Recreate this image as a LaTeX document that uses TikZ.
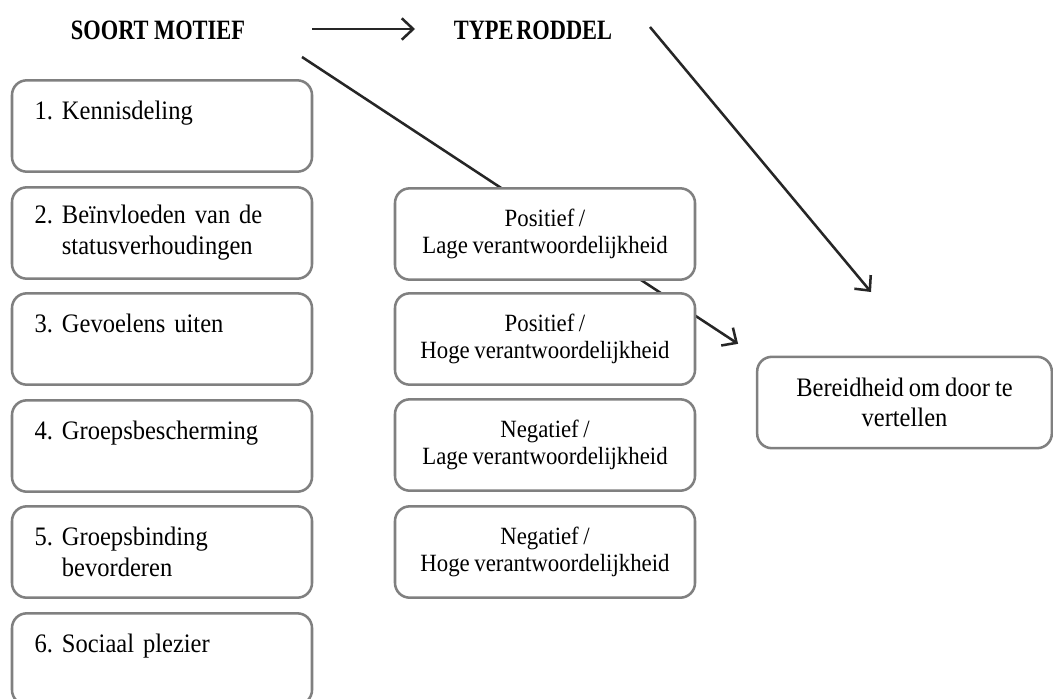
\documentclass[tikz,border=0pt]{standalone}
\usepackage{fontspec}
\setmainfont{Liberation Serif}[FakeStretch=0.92, WordSpace=0.8]
\newfontfamily\hdrfont{Liberation Serif}[FakeStretch=0.8]
\usetikzlibrary{arrows.meta}
\definecolor{boxgray}{RGB}{128,128,128}
\definecolor{linecol}{RGB}{38,38,38}
\begin{document}
\frenchspacing
\begin{tikzpicture}[x=0.75pt,y=-0.75pt,
  box/.style={draw=boxgray, line width=1.9pt, rounded corners=11pt, fill=white, minimum height=68.5pt, inner ysep=0pt},
  leftbox/.style={box, inner xsep=17pt, text width=191pt, align=left, font=\frenchspacing\fontsize{20}{23.25}\selectfont},
  midbox/.style={box, minimum width=225pt, align=center, font=\frenchspacing\fontsize{18.6}{20.25}\selectfont},
  endbox/.style={box, minimum width=221pt, align=center, font=\frenchspacing\fontsize{20}{22.5}\selectfont},
  hdr/.style={font=\hdrfont\bfseries\fontsize{21}{22}\selectfont, inner sep=0pt},
  arr/.style={draw=linecol, line width=1.9pt, -{Straight Barb[length=8.5pt,width=16pt]}},
  plainline/.style={draw=linecol, line width=1.9pt}]
\clip (0,0) rectangle (1053,699);
\fill[white] (0,0) rectangle (1053,699);

% headers
\node[hdr] (soort) at (158,30) {SOORT MOTIEF};
\node[hdr] (type) at (533,30) {TYPE\hspace{2pt}RODDEL};

% connector end points
\coordinate (a1s) at (312,29);
\coordinate (a1e) at (415,29);
\coordinate (l2s) at (302,57);
\coordinate (a3s) at (650,27);
\coordinate (a3e) at (871,292);

% right box (needed for arrow target)
\node[endbox] (bereid) at (904.5,402.5) {Bereidheid om door te\\vertellen};

% connectors (behind boxes)
\draw[arr] (a1s) -- (a1e);
\draw[arr, shorten >=16pt] (l2s) -- (bereid.north west);
\draw[arr] (a3s) -- (a3e);

% left column
\node[leftbox] (m1) at (162,126) {\mbox{1. Kennisdeling}\\\mbox{}};
\node[leftbox] (m2) at (162,233) {\mbox{2. Beïnvloeden van de}\\\mbox{\hphantom{2. }statusverhoudingen}};
\node[leftbox] (m3) at (162,339) {\mbox{3. Gevoelens uiten}\\\mbox{}};
\node[leftbox] (m4) at (162,446) {\mbox{4. Groepsbescherming}\\\mbox{}};
\node[leftbox] (m5) at (162,552) {\mbox{5. Groepsbinding}\\\mbox{\hphantom{5. }bevorderen}};
\node[leftbox] (m6) at (162,659) {\mbox{6. Sociaal plezier}\\\mbox{}};

% middle column
\node[midbox] (t1) at (545,234) {Positief /\\Lage verantwoordelijkheid};
\node[midbox] (t2) at (545,339) {Positief /\\Hoge verantwoordelijkheid};
\node[midbox] (t3) at (545,445) {Negatief /\\Lage verantwoordelijkheid};
\node[midbox] (t4) at (545,552) {Negatief /\\Hoge verantwoordelijkheid};
\end{tikzpicture}
\end{document}
